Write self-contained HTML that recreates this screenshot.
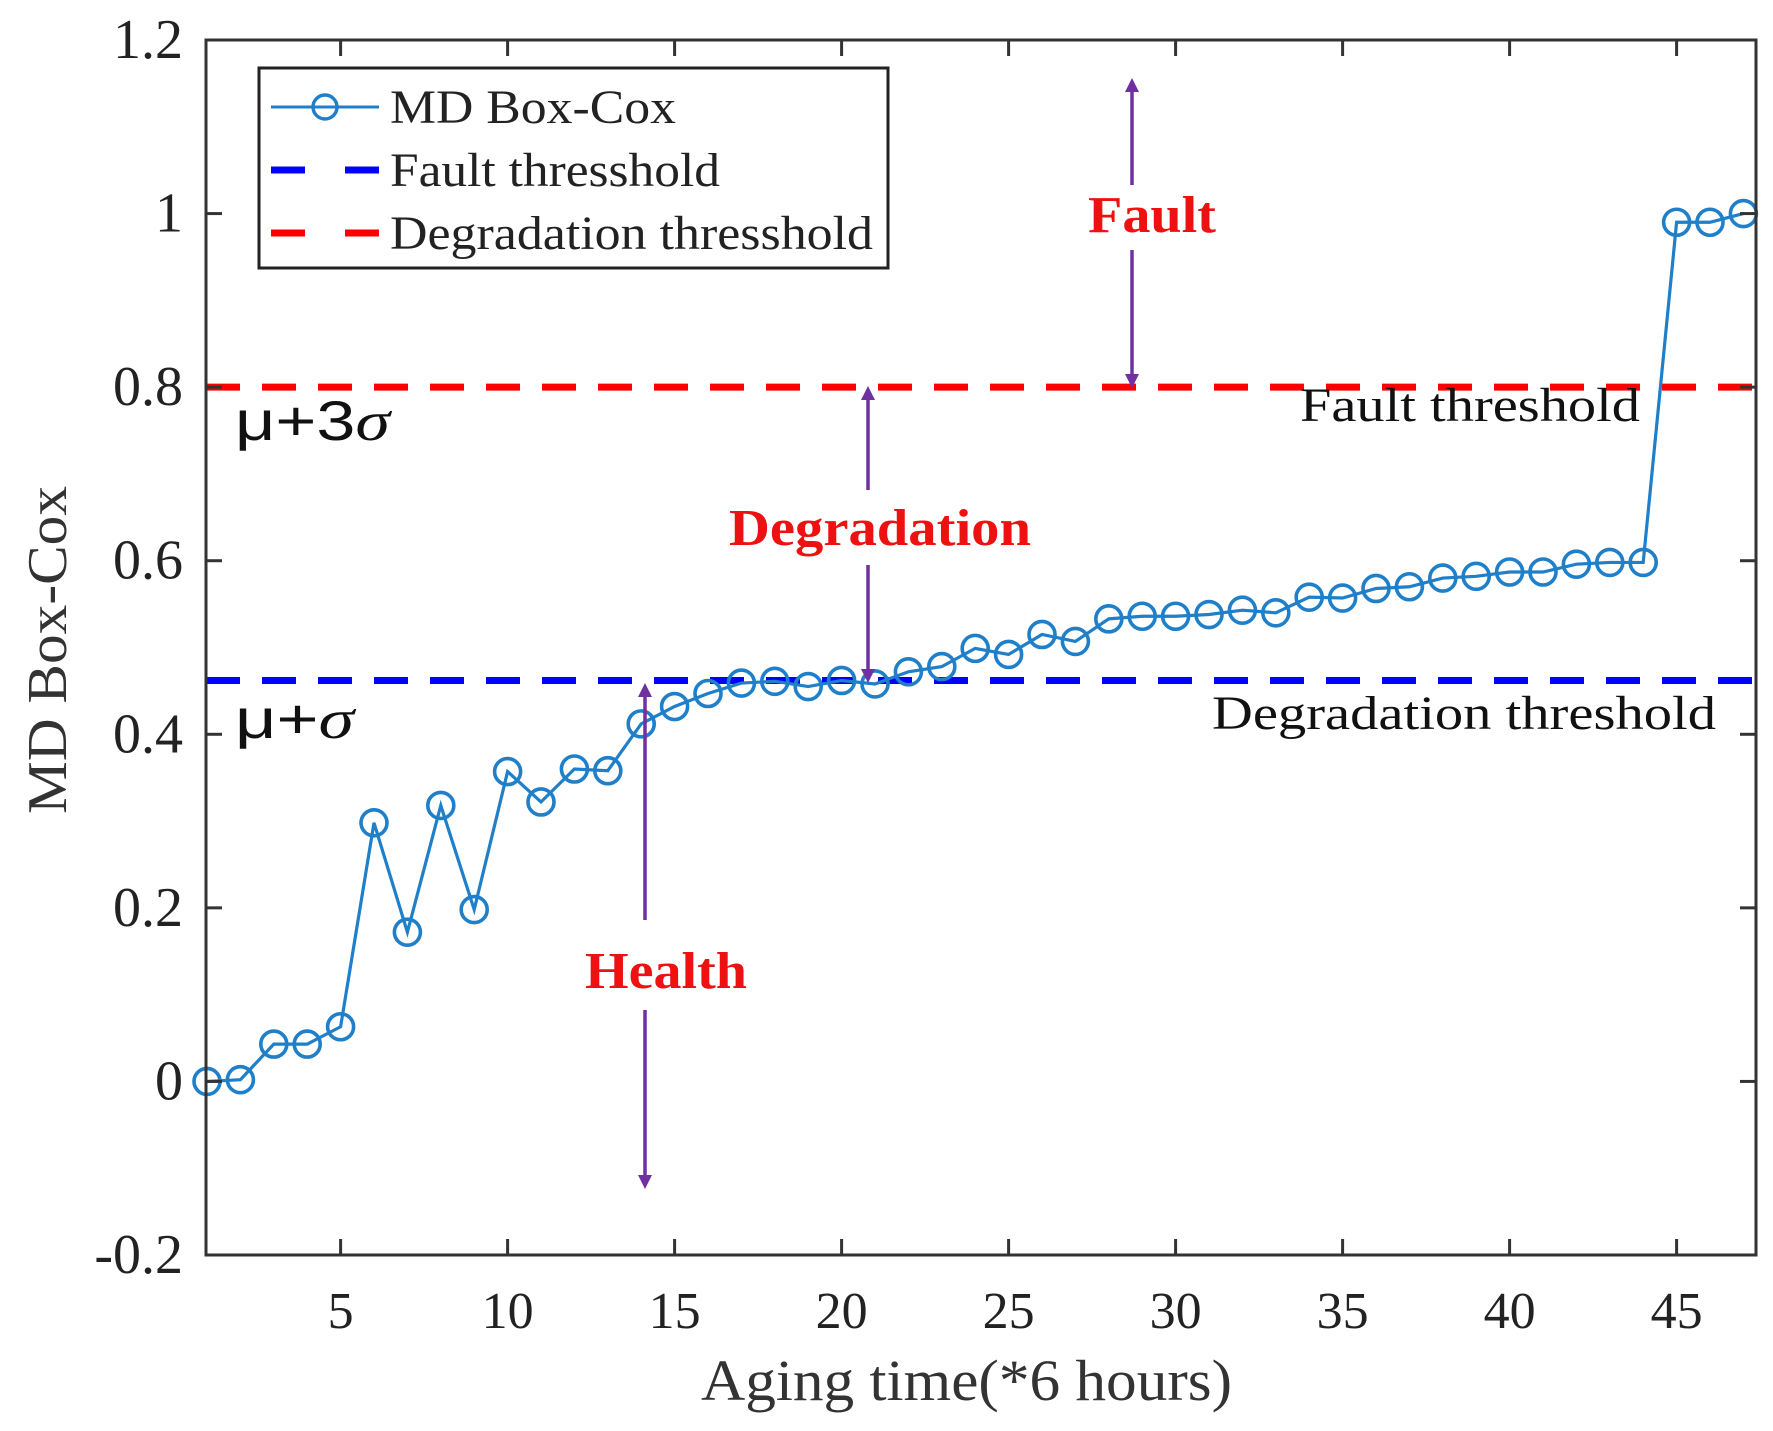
<!DOCTYPE html>
<html><head><meta charset="utf-8"><style>
html,body{margin:0;padding:0;background:#fff;}
svg{display:block;font-family:"Liberation Serif",serif;}
</style></head><body>
<svg id="chart" width="1773" height="1431" viewBox="0 0 1773 1431">
<defs>
<marker id="ah" viewBox="0 0 10 10" refX="5" refY="5" markerWidth="4" markerHeight="5" orient="auto-start-reverse"><path d="M0,0 L10,5 L0,10 z" fill="#7030a0"/></marker>
</defs>
<g id="plot"></g>
</svg>
<script>
const xValues=[1,2,3,4,5,6,7,8,9,10,11,12,13,14,15,16,17,18,19,20,21,22,23,24,25,26,27,28,29,30,31,32,33,34,35,36,37,38,39,40,41,42,43,44,45,46,47];
const mdValues=[0,0.002,0.043,0.043,0.063,0.298,0.172,0.318,0.198,0.357,0.322,0.36,0.358,0.412,0.432,0.447,0.459,0.461,0.455,0.462,0.458,0.472,0.478,0.499,0.492,0.515,0.507,0.533,0.536,0.536,0.538,0.543,0.54,0.558,0.557,0.568,0.57,0.58,0.582,0.587,0.587,0.596,0.598,0.598,0.99,0.99,1.0];
const faultThreshold=[0.8];
const degradationThreshold=[0.462];
const xTicks=[5,10,15,20,25,30,35,40,45];
const yTicks=[-0.2,0,0.2,0.4,0.6,0.8,1,1.2];
const yTickLabels=["-0.2","0","0.2","0.4","0.6","0.8","1","1.2"];

const L=206,R=1756,T=40,B=1255;
const xMin=1,xMax=47.4,yMin=-0.2,yMax=1.2;
const X=v=>207+(v-xMin)*33.4;
const Y=v=>B-(v-yMin)/(yMax-yMin)*(B-T);
const NS="http://www.w3.org/2000/svg";
const g=document.getElementById('plot');
function mk(tag,attrs,parent){const e=document.createElementNS(NS,tag);for(const k in attrs)e.setAttribute(k,attrs[k]);(parent||g).appendChild(e);return e;}

let e=mk('line',{x1:L,x2:R,y1:Y(faultThreshold[0]),y2:Y(faultThreshold[0]),stroke:'#ff0000','stroke-width':7,'stroke-dasharray':'34 22'});


e=mk('line',{x1:L,x2:R,y1:Y(degradationThreshold[0]),y2:Y(degradationThreshold[0]),stroke:'#0000ff','stroke-width':7,'stroke-dasharray':'34 22'});



e=mk('polyline',{points:xValues.map((x,i)=>X(x)+','+Y(mdValues[i])).join(' '),fill:'none',stroke:'#1f7fc8','stroke-width':3.2});


xValues.forEach((x,i)=>{
  const c=mk('circle',{cx:X(x),cy:Y(mdValues[i]),r:13,fill:'none',stroke:'#1f7fc8','stroke-width':3.6});
  
  
});

e=mk('rect',{x:L,y:T,width:R-L,height:B-T,fill:'none',stroke:'#333','stroke-width':3});



xTicks.forEach(t=>{
  mk('line',{x1:X(t),x2:X(t),y1:B,y2:B-16,stroke:'#333','stroke-width':3});
  mk('line',{x1:X(t),x2:X(t),y1:T,y2:T+16,stroke:'#333','stroke-width':3});
  const tx=mk('text',{x:X(t),y:1328,'text-anchor':'middle','font-size':52,fill:'#222'});
  tx.textContent=t;
  
  
});
yTicks.forEach((t,i)=>{
  mk('line',{x1:L,x2:L+16,y1:Y(t),y2:Y(t),stroke:'#333','stroke-width':3});
  mk('line',{x1:R,x2:R-16,y1:Y(t),y2:Y(t),stroke:'#333','stroke-width':3});
  const tx=mk('text',{x:183,y:Y(t)+18,'text-anchor':'end','font-size':56,fill:'#222'});
  tx.textContent=yTickLabels[i];
  
  
});

function arrow(x,y1,y2,name){
  const a=mk('line',{x1:x,x2:x,y1:y1,y2:y2,stroke:'#7030a0','stroke-width':3.5,'marker-end':'url(#ah)'});
  
  
}
arrow(1132,185,85,'fault-arrow-up');arrow(1132,250,381,'fault-arrow-down');
arrow(868,490,393,'degradation-arrow-up');arrow(868,565,676,'degradation-arrow-down');
arrow(645,920,690,'health-arrow-up');arrow(645,1010,1182,'health-arrow-down');
</script>
<div style="position:absolute;left:0;top:0;width:1773px;height:1431px;pointer-events:none;">
<svg width="1773" height="1431" style="font-family:'Liberation Serif',serif;">
<text x="1088" y="232" textLength="128" lengthAdjust="spacingAndGlyphs" font-size="52" font-weight="bold" fill="#ee1111">Fault</text>
<text x="729" y="545" textLength="302" lengthAdjust="spacingAndGlyphs" font-size="52" font-weight="bold" fill="#ee1111">Degradation</text>
<text x="585" y="988" textLength="162" lengthAdjust="spacingAndGlyphs" font-size="52" font-weight="bold" fill="#ee1111">Health</text>
<text x="1300" y="421" textLength="340" lengthAdjust="spacingAndGlyphs" font-size="48" fill="#111">Fault threshold</text>
<text x="1212" y="729" textLength="504" lengthAdjust="spacingAndGlyphs" font-size="48" fill="#111">Degradation threshold</text>
<text x="235" y="440" textLength="155" lengthAdjust="spacingAndGlyphs" font-size="56" fill="#111" style="font-family:'Liberation Sans',sans-serif">μ+3<tspan font-style="italic" font-family="Liberation Serif">σ</tspan></text>
<text x="235" y="738" textLength="119" lengthAdjust="spacingAndGlyphs" font-size="56" fill="#111" style="font-family:'Liberation Sans',sans-serif">μ+<tspan font-style="italic" font-family="Liberation Serif">σ</tspan></text>
<text x="701" y="1400" textLength="531" lengthAdjust="spacingAndGlyphs" font-size="58" fill="#333">Aging time(*6 hours)</text>
<text transform="translate(66,814) rotate(-90)" textLength="328" lengthAdjust="spacingAndGlyphs" font-size="56" fill="#333">MD Box-Cox</text>
<g>
<rect x="259" y="68" width="629" height="200" fill="#fff" stroke="#222" stroke-width="3"/>
<line x1="271" x2="379" y1="107" y2="107" stroke="#1f7fc8" stroke-width="3"/>
<circle cx="325" cy="107" r="12" fill="none" stroke="#1f7fc8" stroke-width="3.4"/>
<text x="390" y="123" textLength="286" lengthAdjust="spacingAndGlyphs" font-size="48" fill="#222">MD Box-Cox</text>
<line x1="271" x2="379" y1="170" y2="170" stroke="#0000ff" stroke-width="7" stroke-dasharray="34 40"/>
<text x="390" y="186" textLength="330" lengthAdjust="spacingAndGlyphs" font-size="48" fill="#222">Fault thresshold</text>
<line x1="271" x2="379" y1="233" y2="233" stroke="#ff0000" stroke-width="7" stroke-dasharray="34 40"/>
<text x="390" y="249" textLength="483" lengthAdjust="spacingAndGlyphs" font-size="48" fill="#222">Degradation thresshold</text>
</g>
</svg>
</div>
</body></html>
